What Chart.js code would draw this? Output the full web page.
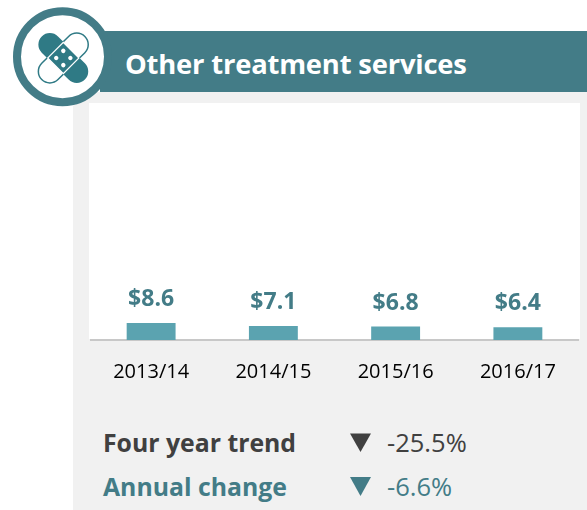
<!DOCTYPE html>
<html><head><meta charset="utf-8">
<script src="https://cdn.jsdelivr.net/npm/chart.js@4"></script>
<style>
html,body{margin:0;padding:0;background:#fff;overflow:hidden}
body{width:587px;height:510px;position:relative;font-family:"Open Sans",sans-serif}
.grey{position:absolute;left:73px;top:92px;width:514px;height:418px;background:#f1f1f1}
.white{position:absolute;left:89px;top:103px;width:491px;height:236px;background:#fff}
.band{position:absolute;left:100px;top:31px;width:487px;height:61px;background:#437c87}
.title{position:absolute;left:125px;top:44px;font-size:27.4px;font-weight:700;color:#fff;line-height:40px;white-space:nowrap;letter-spacing:-.2px}
#wrap{position:absolute;left:90px;top:103px;width:489px;height:285px}
.t{position:absolute;white-space:nowrap;line-height:34px}
svg{position:absolute;overflow:visible}
</style></head><body>
<div class="grey"></div><div class="white"></div><div class="band"></div>
<svg style="left:0;top:0" width="587" height="510">
<circle cx="62.5" cy="56.7" r="45.5" fill="#fff" stroke="#437c87" stroke-width="8"/>
<g transform="translate(63.3 58) rotate(45)">
<path d="M-11.5 -10V-19a11.5 11.5 0 0 1 23 0V-10z" fill="#fff" stroke="#2f7a85" stroke-width="1.5"/>
<path d="M-11.5 10V19a11.5 11.5 0 0 0 23 0V10z" fill="#fff" stroke="#2f7a85" stroke-width="1.5"/>
<path d="M-10 -11.5H-19a11.5 11.5 0 0 0 0 23H-10z" fill="#2f7a85"/>
<path d="M10 -11.5H19a11.5 11.5 0 0 1 0 23H10z" fill="#2f7a85"/>
<rect x="-11" y="-11" width="22" height="22" fill="#2f7a85" stroke="#fff" stroke-width="1.2"/>
<circle cx="-5" cy="-5" r="2.2" fill="#fff"/><circle cx="5" cy="-5" r="2.2" fill="#fff"/>
<circle cx="-5" cy="5" r="2.2" fill="#fff"/><circle cx="5" cy="5" r="2.2" fill="#fff"/>
</g>
<polygon points="350,433.5 371,433.5 360.5,452" fill="#404040"/>
<polygon points="350,477 371,477 360.5,496" fill="#437c87"/>
</svg>
<div class="title">Other treatment services</div>
<div id="wrap"><canvas id="c"></canvas></div>
<div class="t" style="left:103px;top:425px;font-size:24.8px;font-weight:700;color:#404040">Four year trend</div>
<div class="t" style="left:103px;top:469px;font-size:24.8px;font-weight:700;color:#437c87">Annual change</div>
<div class="t" style="left:387px;top:425px;font-size:25.5px;color:#404040">-25.5%</div>
<div class="t" style="left:387px;top:469px;font-size:25.5px;color:#437c87">-6.6%</div>
<script>
const categories = ["2013/14","2014/15","2015/16","2016/17"];
const values = [8.6,7.1,6.8,6.4];
const valueLabels = ["$8.6","$7.1","$6.8","$6.4"];
const labelPlugin = {
  id:"valueLabels",
  afterDatasetsDraw(chart){
    const ctx = chart.ctx, meta = chart.getDatasetMeta(0);
    ctx.save();
    ctx.font = '700 23px "Open Sans"';
    ctx.fillStyle = "#437c87";
    ctx.textAlign = "center";
    ctx.textBaseline = "alphabetic";
    meta.data.forEach((b,i)=>ctx.fillText(valueLabels[i], b.x, b.y-17));
    ctx.restore();
  }
};
new Chart(document.getElementById("c"),{
  type:"bar",
  data:{labels:categories,datasets:[{data:values,backgroundColor:"#5ba3b0",barPercentage:0.8,categoryPercentage:0.5}]},
  options:{
    responsive:true,maintainAspectRatio:false,animation:false,
    layout:{padding:0},
    plugins:{legend:{display:false},tooltip:{enabled:false}},
    scales:{
      y:{display:false,min:0,max:120},
      x:{
        afterFit(s){s.height=48},
        border:{color:"#c8c8c8",width:2},
        grid:{display:false},
        ticks:{color:"#000",font:{family:'"Open Sans"',size:20},padding:12,maxRotation:0}
      }
    }
  },
  plugins:[labelPlugin]
});
</script>
</body></html>
